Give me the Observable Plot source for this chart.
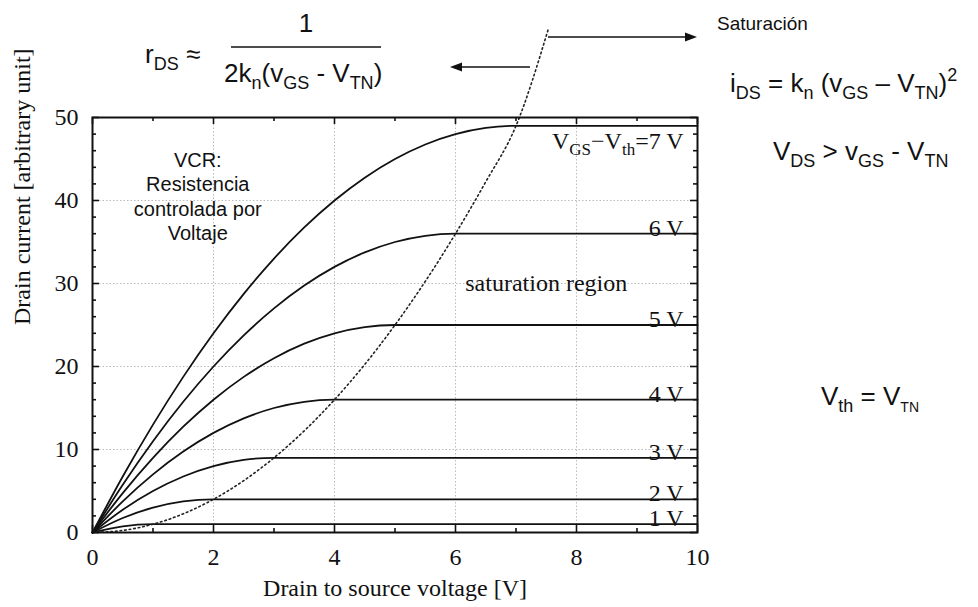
<!DOCTYPE html>
<html><head><meta charset="utf-8">
<script src="https://cdn.jsdelivr.net/npm/d3@7"></script>
<script src="https://cdn.jsdelivr.net/npm/@observablehq/plot@0.6"></script>
<style>body{margin:0;background:#fff}#chart{width:978px;height:607px;position:relative}</style>
</head><body><div id="chart"></div>
<script>
// ---- data ----
const vdsSteps = [0, 0.5, 1, 1.5, 2, 2.5, 3, 3.5, 4, 4.5, 5, 5.5, 6, 6.5, 7];
const vdsEnd = 10;
const levels = [1, 2, 3, 4, 5, 6, 7];
const id1 = [0, 0.75, 1];
const id2 = [0, 1.75, 3, 3.75, 4];
const id3 = [0, 2.75, 5, 6.75, 8, 8.75, 9];
const id4 = [0, 3.75, 7, 9.75, 12, 13.75, 15, 15.75, 16];
const id5 = [0, 4.75, 9, 12.75, 16, 18.75, 21, 22.75, 24, 24.75, 25];
const id6 = [0, 5.75, 11, 15.75, 20, 23.75, 27, 29.75, 32, 33.75, 35, 35.75, 36];
const id7 = [0, 6.75, 13, 18.75, 24, 28.75, 33, 36.75, 40, 42.75, 45, 46.75, 48, 48.75, 49];
const edgeId = [0, 0.25, 1, 2.25, 4, 6.25, 9, 12.25, 16, 20.25, 25, 30.25, 36, 42.25, 49];
const edgeTopVds = 7.54;
const edgeTopId = 60.8;
const curveLabels = ["1 V", "2 V", "3 V", "4 V", "5 V", "6 V", "VGS−Vth=7 V"];
const labelVds = 9.77;
const xMajor = [0, 2, 4, 6, 8, 10];
const xMinor = [1, 3, 5, 7, 9];
const yMajor = [0, 10, 20, 30, 40, 50];
const yMinor = [2, 4, 6, 8, 12, 14, 16, 18, 22, 24, 26, 28, 32, 34, 36, 38, 42, 44, 46, 48];
const xGrid = [2, 4, 6, 8];
const yGrid = [10, 20, 30, 40];
const xTitle = "Drain to source voltage [V]";
const yTitle = "Drain current [arbitrary unit]";
const vcrText = "VCR:\nResistencia\ncontrolada por\nVoltaje";
const vcrPos = {vds: 1.74, id: 40.6};
const satText = "saturation region";
const satPos = {vds: 7.5, id: 30};

// ---- build tables ----
const idCurves = [id1, id2, id3, id4, id5, id6, id7];
const rows = levels.flatMap((lv, k) => {
  const ys = idCurves[k];
  const pts = ys.map((y, i) => ({vds: vdsSteps[i], id: y, level: lv}));
  pts.push({vds: vdsEnd, id: ys[ys.length - 1], level: lv});
  return pts;
});
const edgeRows = edgeId.map((y, i) => ({vds: vdsSteps[i], id: y}));
edgeRows.push({vds: edgeTopVds, id: edgeTopId});
const labelRows = levels.map((lv, k) => ({vds: labelVds, id: idCurves[k][idCurves[k].length - 1], text: curveLabels[k]}));

const serif = "'Liberation Serif', 'Times New Roman', serif";
const sans = "'Liberation Sans', Arial, sans-serif";
const ink = "#111";
const W = 978, H = 607, mL = 92, mR = 281, mT = 117, mB = 75;
const fw = W - mL - mR, fh = H - mT - mB;
const xDom = [0, 10], yDom = [0, 50];
// tick lengths in pixels converted to data units
const pxX = (xDom[1] - xDom[0]) / fw, pxY = (yDom[1] - yDom[0]) / fh;
const big = 7, small = 4;
const tk = {stroke: ink, strokeWidth: 1.6};

const plot = Plot.plot({
  width: W, height: H,
  marginLeft: mL, marginRight: mR, marginTop: mT, marginBottom: mB,
  x: {domain: xDom},
  y: {domain: yDom},
  style: {fontFamily: serif, fontSize: "24px", background: "#fff", color: ink, overflow: "visible"},
  marks: [
    Plot.gridX(xGrid, {stroke: "#bbb", strokeOpacity: 1, strokeDasharray: "1.5,2"}),
    Plot.gridY(yGrid, {stroke: "#bbb", strokeOpacity: 1, strokeDasharray: "1.5,2"}),
    Plot.axisX(xMajor, {anchor: "bottom", tickSize: 0, tickPadding: 15, fontSize: 24, label: null}),
    Plot.axisY(yMajor, {anchor: "left", tickSize: 0, tickPadding: 14, fontSize: 24, label: null}),
    // inward ticks on all four sides
    Plot.ruleX(xMajor, {x: d => d, y1: yDom[0], y2: yDom[0] + big * pxY, ...tk}),
    Plot.ruleX(xMajor, {x: d => d, y1: yDom[1], y2: yDom[1] - big * pxY, ...tk}),
    Plot.ruleX(xMinor, {x: d => d, y1: yDom[0], y2: yDom[0] + small * pxY, ...tk}),
    Plot.ruleX(xMinor, {x: d => d, y1: yDom[1], y2: yDom[1] - small * pxY, ...tk}),
    Plot.ruleY(yMajor, {y: d => d, x1: xDom[0], x2: xDom[0] + big * pxX, ...tk}),
    Plot.ruleY(yMajor, {y: d => d, x1: xDom[1], x2: xDom[1] - big * pxX, ...tk}),
    Plot.ruleY(yMinor, {y: d => d, x1: xDom[0], x2: xDom[0] + small * pxX, ...tk}),
    Plot.ruleY(yMinor, {y: d => d, x1: xDom[1], x2: xDom[1] - small * pxX, ...tk}),
    Plot.line(rows, {x: "vds", y: "id", z: "level", curve: "monotone-x", stroke: ink, strokeWidth: 1.8}),
    Plot.line(edgeRows, {x: "vds", y: "id", curve: "monotone-x", stroke: "#222", strokeWidth: 1.6, strokeDasharray: "1.6,3"}),
    Plot.frame({stroke: ink, strokeWidth: 2}),
    Plot.text(labelRows.slice(0, 6), {x: "vds", y: "id", text: "text", textAnchor: "end", lineAnchor: "bottom", dy: 2, fontSize: 24, fill: ink}),
    Plot.text(labelRows.slice(6), {x: "vds", y: "id", text: "text", textAnchor: "end", lineAnchor: "top", dy: 6, fontSize: 24, fill: ink}),
    Plot.text([satText], {x: satPos.vds, y: satPos.id, text: d => d, fontSize: 24, fill: ink}),
    Plot.text([vcrText], {x: vcrPos.vds, y: vcrPos.id, text: d => d, fontSize: 20, lineHeight: 1.23, fontFamily: sans, fill: ink}),
    Plot.text([xTitle], {frameAnchor: "bottom", dy: 63, text: d => d, fontSize: 24, fill: ink}),
    Plot.text([yTitle], {frameAnchor: "left", dx: -70, rotate: -90, text: d => d, fontSize: 24, fill: ink})
  ]
});
document.getElementById("chart").append(plot);

// ---- rich text (subscripts) ----
const svg = d3.select(plot);
function fillRich(t, parts, subSize, subShift, supShift) {
  let shift = 0;
  t.style("white-space", "pre");
  for (const [s, kind] of parts) {
    const target = kind === "sub" ? subShift : kind === "sup" ? -supShift : 0;
    const ts = t.append("tspan").attr("dy", target - shift).text(s);
    if (kind !== "n") ts.attr("font-size", subSize);
    shift = target;
  }
}
svg.selectAll("text").filter(function() { return this.textContent === curveLabels[6]; }).each(function() {
  const t = d3.select(this);
  t.text(null);
  fillRich(t, [["V", "n"], ["GS", "sub"], ["−V", "n"], ["th", "sub"], ["=7 V", "n"]], 17, 6, 0);
});

// ---- annotations around the chart ----
const g = svg.append("g").attr("font-family", sans).attr("fill", ink).attr("font-size", 26);
function rich(x, y, parts, anchor = "start", size = 26) {
  const t = g.append("text").attr("x", x).attr("y", y).attr("text-anchor", anchor).attr("font-size", size);
  fillRich(t, parts, 18, 7, 11);
  return t;
}
rich(145, 63, [["r", "n"], ["DS", "sub"], [" ≈", "n"]]);
rich(306, 32, [["1", "n"]], "middle");
g.append("line").attr("x1", 231).attr("x2", 381).attr("y1", 47).attr("y2", 47).attr("stroke", ink).attr("stroke-width", 1.5);
rich(224, 82, [["2k", "n"], ["n", "sub"], ["(v", "n"], ["GS", "sub"], [" - V", "n"], ["TN", "sub"], [")", "n"]]);
rich(717, 30, [["Saturación", "n"]], "start", 19);
rich(730, 92, [["i", "n"], ["DS", "sub"], [" = k", "n"], ["n", "sub"], [" (v", "n"], ["GS", "sub"], [" – V", "n"], ["TN", "sub"], [")", "n"], ["2", "sup"]]);
rich(773, 160, [["V", "n"], ["DS", "sub"], [" > v", "n"], ["GS", "sub"], [" - V", "n"], ["TN", "sub"]]);
const vth = g.append("text").attr("x", 870).attr("y", 405);
fillRich(vth, [["V", "n"], ["th", "sub"], [" = V", "n"], ["TN", "sub"]], 18, 7, 0);
vth.selectAll("tspan").filter((d, i) => i === 3).attr("font-size", 14);

function arrow(x1, x2, y) {
  const dir = Math.sign(x2 - x1);
  g.append("line").attr("x1", x1).attr("x2", x2 - dir * 10).attr("y1", y).attr("y2", y).attr("stroke", ink).attr("stroke-width", 1.6);
  g.append("path").attr("d", `M${x2},${y}L${x2 - dir * 12},${y - 4.5}L${x2 - dir * 12},${y + 4.5}Z`).attr("fill", ink);
}
arrow(530, 450, 67);
arrow(548, 697, 37);
</script>
</body></html>
